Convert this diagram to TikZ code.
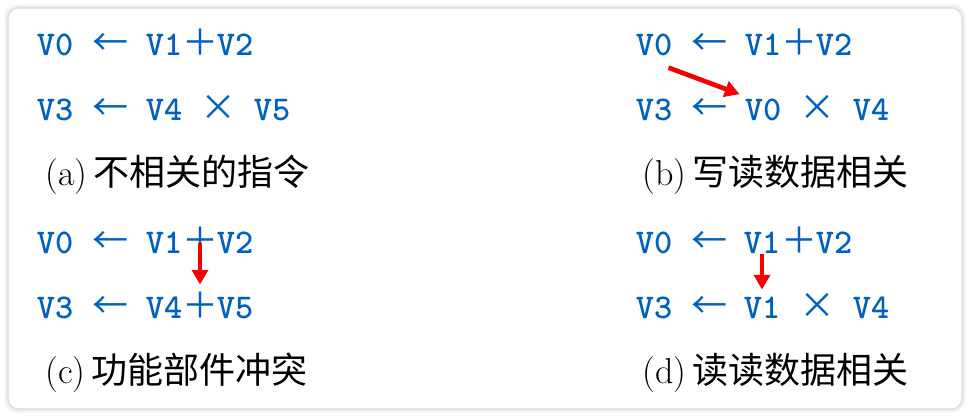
\documentclass[tikz,border=0pt]{standalone}
\usepackage{fontspec}
\newfontfamily\cjk{Noto Sans CJK SC}
\usetikzlibrary{arrows.meta}
\definecolor{regblue}{RGB}{0,98,190}
\definecolor{depred}{RGB}{245,0,0}

\tikzset{
  tok/.style = {
    text = regblue,
    inner sep = 0pt,
    anchor = base,
    font = \fontsize{26}{30}\selectfont\ttfamily\bfseries,
  },
  sym/.style = {
    text = regblue,
    inner sep = 0pt,
    anchor = base,
    font = \fontsize{27}{30}\selectfont\cjk,
  },
  caption/.style = {
    inner sep = 0pt,
    anchor = base west,
    font = \fontsize{27}{30}\selectfont,
  },
  dep/.style = {
    draw = depred,
    line width = 3.5pt,
    -{Triangle[width = 12pt, length = 11pt]},
  },
}

\begin{document}
\begin{tikzpicture}[x = 0.75pt, y = -0.75pt]
        \useasboundingbox (0,0) rectangle (970,418);
        % card and its shadow
        \draw [black!4, line width = 6pt, rounded corners = 8pt]
          (8,8) rectangle (962,409);
        \draw [black!8, line width = 3pt, rounded corners = 8pt]
          (8,8) rectangle (962,409);
        \draw [black!14, fill = white, line width = 0.8pt,
          rounded corners = 8pt] (8,8) rectangle (962,409);

        % (a)
        \node [tok] (a1d) at (55,55)   {V0};
        \node [sym] (a1a) at (110,55)  {←};
        \node [tok] (a1s) at (164,55)  {V1};
        \node [sym] (a1o) at (200,55)  {＋};
        \node [tok] (a1t) at (235,55)  {V2};
        \node [tok] (a2d) at (55,120)  {V3};
        \node [sym] (a2a) at (110,120) {←};
        \node [tok] (a2s) at (164,120) {V4};
        \node [sym] (a2o) at (218,120) {×};
        \node [tok] (a2t) at (272,120) {V5};
        \node [caption] (acap) at (45,185) {(a)\,\cjk 不相关的指令};

        % (b)
        \node [tok] (b1d) at (654,55)  {V0};
        \node [sym] (b1a) at (709,55)  {←};
        \node [tok] (b1s) at (763,55)  {V1};
        \node [sym] (b1o) at (799,55)  {＋};
        \node [tok] (b1t) at (834,55)  {V2};
        \node [tok] (b2d) at (654,120) {V3};
        \node [sym] (b2a) at (709,120) {←};
        \node [tok] (b2s) at (763,120) {V0};
        \node [sym] (b2o) at (817,120) {×};
        \node [tok] (b2t) at (871,120) {V4};
        \node [caption] (bcap) at (642,185) {(b)\,\cjk 写读数据相关};

        % (c)
        \node [tok] (c1d) at (55,253)  {V0};
        \node [sym] (c1a) at (110,253) {←};
        \node [tok] (c1s) at (164,253) {V1};
        \node [sym] (c1o) at (200,253) {＋};
        \node [tok] (c1t) at (235,253) {V2};
        \node [tok] (c2d) at (55,318)  {V3};
        \node [sym] (c2a) at (110,318) {←};
        \node [tok] (c2s) at (164,318) {V4};
        \node [sym] (c2o) at (200,318) {＋};
        \node [tok] (c2t) at (235,318) {V5};
        \node [caption] (ccap) at (45,383) {(c)\,\cjk 功能部件冲突};

        % (d)
        \node [tok] (d1d) at (654,253) {V0};
        \node [sym] (d1a) at (709,253) {←};
        \node [tok] (d1s) at (762,253) {V1};
        \node [sym] (d1o) at (799,253) {＋};
        \node [tok] (d1t) at (834,253) {V2};
        \node [tok] (d2d) at (654,318) {V3};
        \node [sym] (d2a) at (709,318) {←};
        \node [tok] (d2s) at (762,318) {V1};
        \node [sym] (d2o) at (817,318) {×};
        \node [tok] (d2t) at (871,318) {V4};
        \node [caption] (dcap) at (642,383) {(d)\,\cjk 读读数据相关};

        % dependences
        \draw [dep] ([shift={(-4,12)}]b1d.south east)
          -- ([shift={(-5,-4)}]b2s.north west);
        \draw [dep] ([yshift=8pt]c1o.south) -- ([yshift=5pt]c2o.north);
        \draw [dep] (d1s.south) -- ([yshift=5pt]d2s.north);
      \end{tikzpicture}
\end{document}
